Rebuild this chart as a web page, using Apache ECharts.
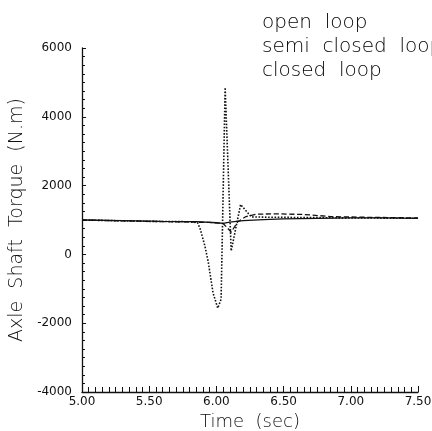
<!DOCTYPE html>
<html>
<head>
<meta charset="UTF-8">
<script src="https://cdn.jsdelivr.net/npm/echarts/dist/echarts.min.js"></script>
<style>
  body { margin: 0; background: #fff; }
  #chart { width: 432px; height: 431px; }
</style>
</head>
<body>
<div id="chart"></div>
<script>
  // series names (legend shows them with wide word gaps, as printed)
  const names = ['open  loop', 'semi  closed  loop', 'closed  loop'];

  // open loop (dotted)
  const openT = [5.0, 5.5, 5.8, 5.86, 5.88, 5.915, 5.94, 5.975, 6.01, 6.035, 6.065, 6.11, 6.18, 6.26, 6.4, 6.7, 7.0, 7.5];
  const openV = [1000, 960, 950, 920, 735, 235, -235, -1120, -1560, -1300, 4850, 100, 1450, 1090, 1080, 1070, 1060, 1050];

  // semi closed loop (dashed)
  const semiT = [5.0, 5.5, 5.8, 5.95, 6.05, 6.11, 6.16, 6.22, 6.3, 6.45, 6.65, 6.85, 7.1, 7.5];
  const semiV = [1000, 960, 940, 930, 900, 650, 950, 1100, 1170, 1180, 1160, 1100, 1080, 1060];

  // closed loop (solid)
  const closedT = [5.0, 5.3, 5.6, 5.85, 6.0, 6.05, 6.1, 6.2, 6.35, 6.5, 6.75, 7.0, 7.25, 7.5];
  const closedV = [1000, 980, 960, 950, 920, 900, 940, 980, 1010, 1030, 1050, 1060, 1060, 1050];

  const pairs = (t, v) => t.map((x, i) => [x, v[i]]);

  const chart = echarts.init(document.getElementById('chart'));
  const font = 'DejaVu Sans';
  const ink = '#111';

  function line(name, data, type, width) {
    return {
      name: name,
      type: 'line',
      data: data,
      symbol: 'none',
      smooth: false,
      lineStyle: { color: ink, width: width, type: type },
      itemStyle: { color: ink }
    };
  }

  chart.setOption({
    animation: false,
    grid: { left: 82, right: 14, top: 48, bottom: 39, outerBoundsMode: 'none', containLabel: false },
    legend: {
      data: names,
      orient: 'vertical',
      left: 252,
      top: 8,
      icon: 'rect',
      itemWidth: 0,
      itemHeight: 0,
      itemGap: 4,
      textStyle: { fontFamily: font, fontSize: 20, color: '#000', fontWeight: 200 }
    },
    xAxis: {
      type: 'value',
      min: 5,
      max: 7.5,
      interval: 0.5,
      name: 'Time  (sec)',
      nameLocation: 'middle',
      nameGap: 19,
      nameTextStyle: { fontFamily: font, fontSize: 18, color: ink, fontWeight: 200 },
      axisLine: { onZero: false, lineStyle: { color: ink, width: 1.3 } },
      axisTick: { inside: true, length: 6, lineStyle: { color: ink } },
      minorTick: { show: true, splitNumber: 10, length: 5, lineStyle: { color: ink } },
      splitLine: { show: false },
      axisLabel: {
        fontFamily: font, fontSize: 12, color: ink, margin: 4,
        formatter: v => v.toFixed(2)
      }
    },
    yAxis: {
      type: 'value',
      min: -4000,
      max: 6000,
      interval: 2000,
      name: 'Axle  Shaft  Torque  (N.m)',
      nameLocation: 'middle',
      nameGap: 55,
      nameTextStyle: { fontFamily: font, fontSize: 19, color: ink, fontWeight: 200 },
      axisLine: { show: true, onZero: false, lineStyle: { color: ink, width: 1.3 } },
      axisTick: { inside: true, length: 4, lineStyle: { color: ink } },
      minorTick: { show: true, splitNumber: 8, length: 3, lineStyle: { color: ink } },
      splitLine: { show: false },
      axisLabel: { fontFamily: font, fontSize: 12, color: ink, margin: 10, formatter: v => String(v) }
    },
    series: [
      line(names[0], pairs(openT, openV), 'dotted', 1.6),
      line(names[1], pairs(semiT, semiV), 'dashed', 1.3),
      line(names[2], pairs(closedT, closedV), 'solid', 1.3)
    ]
  });
</script>
</body>
</html>
